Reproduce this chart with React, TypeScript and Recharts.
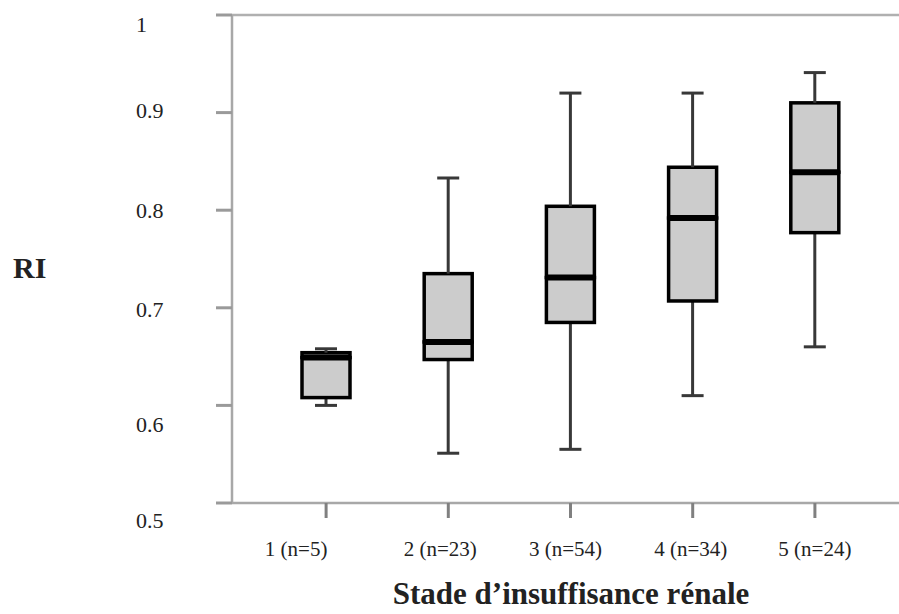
import { ComposedChart, Bar, XAxis, YAxis, ReferenceLine, Label } from 'recharts'

// Box plot of RI per stage of renal failure
const GROUPS = ['1 (n=5)', '2 (n=23)', '3 (n=54)', '4 (n=34)', '5 (n=24)']
const MIN = [0.600, 0.551, 0.555, 0.610, 0.660]
const Q1 = [0.608, 0.647, 0.685, 0.707, 0.777]
const MEDIAN = [0.649, 0.665, 0.731, 0.792, 0.839]
const Q3 = [0.654, 0.735, 0.804, 0.844, 0.910]
const MAX = [0.658, 0.833, 0.920, 0.920, 0.941]
const Y_TICKS = [0.5, 0.6, 0.7, 0.8, 0.9, 1]

const rows = GROUPS.map((name, i) => ({
  name,
  base: MIN[i],
  lowWhisker: Q1[i] - MIN[i],
  lowBox: MEDIAN[i] - Q1[i],
  highBox: Q3[i] - MEDIAN[i],
  highWhisker: MAX[i] - Q3[i],
}))

const FONT = "'Liberation Serif', 'Times New Roman', serif"
const WHISKER = '#383838'
const CAP = 11

const LowWhisker = (p: any) => {
  const cx = p.x + p.width / 2
  const bottom = p.y + p.height
  return (
    <g>
      <line x1={cx} x2={cx} y1={p.y} y2={bottom} stroke={WHISKER} strokeWidth={3} />
      <line x1={cx - CAP} x2={cx + CAP} y1={bottom} y2={bottom} stroke={WHISKER} strokeWidth={3} />
    </g>
  )
}

const HighWhisker = (p: any) => {
  const cx = p.x + p.width / 2
  return (
    <g>
      <line x1={cx} x2={cx} y1={p.y} y2={p.y + p.height} stroke={WHISKER} strokeWidth={3} />
      <line x1={cx - CAP} x2={cx + CAP} y1={p.y} y2={p.y} stroke={WHISKER} strokeWidth={3} />
    </g>
  )
}

const BoxPart = (p: any) => (
  <rect x={p.x} y={p.y} width={p.width} height={Math.max(p.height, 0)} fill="#cccccc" stroke="#000" strokeWidth={3.5} />
)

const UpperBox = (p: any) => {
  const bottom = p.y + p.height
  return (
    <g>
      <rect x={p.x} y={p.y} width={p.width} height={Math.max(p.height, 0)} fill="#cccccc" stroke="#000" strokeWidth={3.5} />
      <line x1={p.x} x2={p.x + p.width} y1={bottom} y2={bottom} stroke="#000" strokeWidth={6} />
    </g>
  )
}

// baseline shift of each y label relative to its tick, as in the source figure
const Y_LABEL_SHIFT: Record<string, number> = { '0.5': 25, '0.6': 27, '0.7': 9, '0.8': 8, '0.9': 5, '1': 17 }
const X_LABEL_SHIFT = [-30, -8, -5, -2, 0]

const YTick = ({ y, payload }: any) => (
  <text x={136} y={y + (Y_LABEL_SHIFT[String(payload.value)] ?? 7)} fontFamily={FONT} fontSize={22} fill="#222" textAnchor="start">
    {String(payload.value)}
  </text>
)

const XTick = ({ x, payload, index }: any) => (
  <text x={x + (X_LABEL_SHIFT[index] ?? 0)} y={556} fontFamily={FONT} fontSize={21} fill="#222" textAnchor="middle">
    {payload.value}
  </text>
)

export default function App() {
  return (
    <div style={{ position: 'absolute', left: 0, top: 0, background: '#fff' }}>
      <ComposedChart width={899} height={614} data={rows} margin={{ top: 15, right: 0, bottom: 0, left: 0 }}>
        <XAxis
          dataKey="name"
          height={111}
          padding={{ left: 33, right: 23 }}
          tickSize={15}
          tickLine={{ stroke: '#808080', strokeWidth: 3 }}
          axisLine={{ stroke: '#a8a8a8', strokeWidth: 2.5 }}
          tick={<XTick />}
          interval={0}
        >
          <Label
            content={() => (
              <text x={571} y={604} fontFamily={FONT} fontSize={31} fontWeight="bold" fill="#222" textAnchor="middle">
                Stade d’insuffisance rénale
              </text>
            )}
          />
        </XAxis>
        <YAxis
          type="number"
          domain={[0.5, 1]}
          allowDataOverflow
          ticks={Y_TICKS}
          width={232}
          tickSize={16}
          tickLine={{ stroke: '#9a9a9a', strokeWidth: 3 }}
          axisLine={{ stroke: '#a8a8a8', strokeWidth: 2.5 }}
          tick={<YTick />}
        >
          <Label
            content={() => (
              <text x={13} y={278} fontFamily={FONT} fontSize={30} fontWeight="bold" fill="#222">
                RI
              </text>
            )}
          />
        </YAxis>
        <ReferenceLine y={1} stroke="#b0b0b0" strokeWidth={2.5} />
        <Bar dataKey="base" stackId="box" fill="transparent" barSize={48} isAnimationActive={false} />
        <Bar dataKey="lowWhisker" stackId="box" shape={<LowWhisker />} barSize={48} isAnimationActive={false} />
        <Bar dataKey="lowBox" stackId="box" shape={<BoxPart />} barSize={48} isAnimationActive={false} />
        <Bar dataKey="highBox" stackId="box" shape={<UpperBox />} barSize={48} isAnimationActive={false} />
        <Bar dataKey="highWhisker" stackId="box" shape={<HighWhisker />} barSize={48} isAnimationActive={false} />
      </ComposedChart>
    </div>
  )
}
